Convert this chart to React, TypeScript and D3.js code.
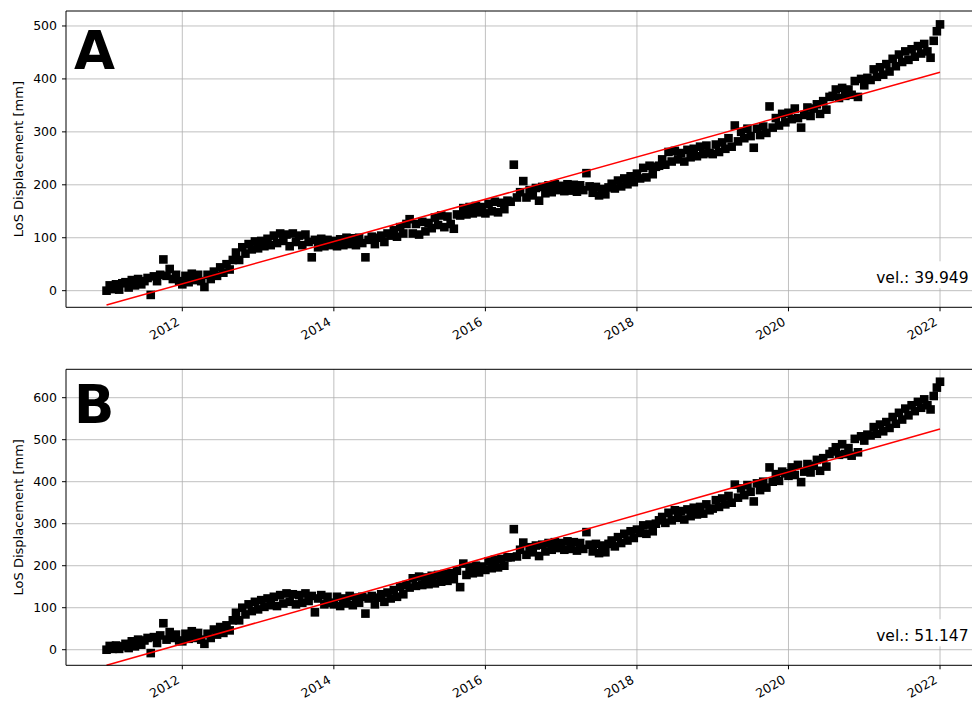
import React from "react";
import * as d3 from "d3";

// decimal-year sampling of the time series (twice a month)
const startYear = 2011;
const stepsPerYear = 24;
const xTicks = [2012, 2014, 2016, 2018, 2020, 2022];

// LoS displacement [mm], panel A, one row per year
const losA = [
  0, 10, 3, 12, 2, 14, 16, 6, 20, 10, 22, 12, 18, 24, -8, 27, 18, 30, 59, 28, 41, 22, 30, 18,
  12, 28, 16, 32, 20, 30, 18, 7, 30, 22, 36, 28, 44, 34, 50, 40, 58, 72, 58, 82, 70, 88, 78, 93,
  80, 94, 84, 98, 86, 104, 90, 108, 94, 106, 84, 108, 92, 104, 86, 106, 92, 63, 96, 82, 98, 84, 96, 86,
  94, 84, 97, 86, 100, 88, 99, 86, 100, 90, 63, 96, 102, 88, 100, 104, 92, 108, 104, 114, 102, 120, 108, 126,
  135, 108, 126, 106, 130, 112, 128, 118, 138, 124, 142, 120, 140, 126, 117, 144, 142, 156, 144, 158, 146, 160, 148, 158,
  146, 164, 150, 168, 148, 166, 154, 170, 168, 238, 176, 186, 207, 176, 190, 180, 194, 170, 196, 184, 199, 186, 201, 190,
  198, 188, 201, 189, 200, 187, 199, 190, 222, 197, 185, 196, 180, 192, 182, 195, 202, 193, 208, 197, 212, 201, 216, 205,
  221, 212, 232, 214, 236, 220, 234, 236, 248, 238, 262, 244, 264, 248, 260, 244, 266, 252, 268, 254, 272, 258, 274, 260,
  258, 276, 262, 280, 268, 288, 272, 312, 282, 300, 288, 306, 292, 270, 306, 294, 310, 298, 348, 308, 326, 312, 334, 318,
  336, 324, 344, 326, 308, 332, 346, 330, 344, 352, 334, 358, 342, 366, 368, 380, 364, 383, 368, 380, 370, 396, 366, 400,
  388, 402, 398, 418, 404, 422, 408, 428, 414, 438, 424, 446, 432, 452, 436, 456, 442, 462, 448, 466, 452, 440, 472, 490, 503,
];

// LoS displacement [mm], panel B
const losB = [
  0, 9, 2, 10, 2, 8, 14, 4, 20, 8, 24, 12, 22, 28, -8, 30, 16, 34, 63, 24, 42, 28, 36, 22,
  20, 38, 26, 44, 28, 40, 24, 14, 38, 28, 48, 36, 54, 40, 58, 46, 70, 88, 70, 100, 84, 108, 92, 114,
  96, 118, 102, 122, 106, 126, 104, 130, 110, 134, 114, 132, 108, 130, 112, 134, 116, 128, 89, 122, 130, 108, 126, 112,
  108, 126, 104, 122, 110, 128, 106, 124, 112, 126, 86, 122, 128, 108, 124, 132, 114, 136, 122, 142, 126, 150, 132, 154,
  148, 170, 152, 174, 154, 172, 156, 176, 158, 178, 162, 180, 164, 182, 168, 188, 149, 205, 178, 196, 182, 200, 184, 198,
  190, 210, 194, 214, 196, 216, 200, 220, 220, 287, 222, 238, 255, 226, 244, 232, 248, 223, 250, 234, 254, 238, 256, 242,
  254, 238, 258, 240, 256, 236, 254, 240, 280, 250, 234, 252, 230, 248, 232, 252, 260, 246, 268, 254, 276, 260, 282, 266,
  286, 278, 296, 276, 298, 282, 300, 308, 316, 302, 326, 308, 332, 314, 330, 310, 334, 318, 338, 322, 340, 324, 346, 332,
  336, 356, 340, 360, 346, 366, 350, 393, 362, 384, 368, 392, 376, 353, 396, 380, 400, 386, 434, 400, 418, 402, 424, 420,
  414, 434, 416, 440, 399, 424, 442, 422, 438, 452, 426, 456, 436, 466, 472, 482, 464, 489, 466, 480, 462, 502, 470, 508,
  498, 512, 510, 530, 514, 536, 520, 542, 528, 554, 538, 564, 548, 574, 558, 582, 568, 590, 576, 596, 582, 572, 604, 624, 638,
];

const panelLetters = ["A", "B"];
const velocities = [39.949, 51.147];
const fitOffsets = [-27, -37]; // fitted value at first acquisition
const yTicksA = [0, 100, 200, 300, 400, 500];
const yTicksB = [0, 100, 200, 300, 400, 500, 600];

const W = 972;
const H = 704;
const FONT = "DejaVu Sans, sans-serif";
const GRID = "#b0b0b0";

const x = d3.scaleLinear().domain([2010.465, 2022.55]).range([66, 981.7]);

interface PanelProps {
  top: number;
  bottom: number;
  yDomain: [number, number];
  values: number[];
  yTicks: number[];
  velocity: number;
  offset: number;
  letter: string;
  letterDy: number;
}

const Panel: React.FC<PanelProps> = ({
  top,
  bottom,
  yDomain,
  values,
  yTicks,
  velocity,
  offset,
  letter,
  letterDy,
}) => {
  const y = d3.scaleLinear().domain(yDomain).range([bottom, top]);
  const [left, right] = x.range();
  const times = values.map((_, i) => startYear + i / stepsPerYear);
  const t0 = times[0];
  const t1 = times[times.length - 1];
  const fit = d3
    .line<number>()
    .x((t) => x(t))
    .y((t) => y(offset + velocity * (t - t0)));

  const ms = 8.6;
  const label = `vel.: ${velocity.toFixed(3)}`;
  const velFs = 15.5;
  const textEnd = 968.5;
  const textBase = bottom - 24;
  const boxW = label.length * 7.7 + 8;

  return (
    <g>
      {/* grid */}
      {yTicks.map((v) => (
        <line key={"gy" + v} x1={left} x2={right} y1={y(v)} y2={y(v)} stroke={GRID} strokeWidth={0.8} />
      ))}
      {xTicks.map((t) => (
        <line key={"gx" + t} x1={x(t)} x2={x(t)} y1={top} y2={bottom} stroke={GRID} strokeWidth={0.8} />
      ))}

      {/* observations */}
      {values.map((v, i) => (
        <rect key={i} x={x(times[i]) - ms / 2} y={y(v) - ms / 2} width={ms} height={ms} fill="#000" />
      ))}

      {/* linear fit */}
      <path d={fit([t0, t1]) ?? ""} fill="none" stroke="#ff0000" strokeWidth={1.5} />

      {/* velocity annotation */}
      <rect x={textEnd - boxW + 4} y={textBase - 22} width={boxW} height={27} fill="#fff" />
      <text x={textEnd} y={textBase} textAnchor="end" fontFamily={FONT} fontSize={velFs} fill="#000">
        {label}
      </text>

      {/* spines */}
      <line x1={left} x2={right} y1={top} y2={top} stroke="#000" strokeWidth={1} />
      <line x1={left} x2={right} y1={bottom} y2={bottom} stroke="#000" strokeWidth={1} />
      <line x1={left} x2={left} y1={top} y2={bottom} stroke="#000" strokeWidth={1} />

      {/* y ticks */}
      {yTicks.map((v) => (
        <g key={"ty" + v}>
          <line x1={left - 4} x2={left} y1={y(v)} y2={y(v)} stroke="#000" />
          <text x={left - 9} y={y(v)} dy="0.36em" textAnchor="end" fontFamily={FONT} fontSize={12.5} fill="#000">
            {v}
          </text>
        </g>
      ))}

      {/* x ticks */}
      {xTicks.map((t) => (
        <g key={"tx" + t}>
          <line x1={x(t)} x2={x(t)} y1={bottom} y2={bottom + 4} stroke="#000" />
          <text
            transform={`translate(${x(t) - 2},${bottom + 17}) rotate(-30)`}
            textAnchor="end"
            fontFamily={FONT}
            fontSize={12.5}
            fill="#000"
          >
            {t}
          </text>
        </g>
      ))}

      <text
        transform={`translate(22.5,${(top + bottom) / 2}) rotate(-90)`}
        textAnchor="middle"
        fontFamily={FONT}
        fontSize={13}
        fill="#000"
      >
        LoS Displacement [mm]
      </text>

      <text x={74} y={top + letterDy} fontFamily={FONT} fontSize={53} fontWeight="bold" fill="#000">
        {letter}
      </text>
    </g>
  );
};

export default function App() {
  return (
    <svg
      width={W}
      height={H}
      viewBox={`0 0 ${W} ${H}`}
      style={{ position: "absolute", left: 0, top: 0, background: "#fff" }}
    >
      <rect width={W} height={H} fill="#fff" />
      <Panel
        top={11}
        bottom={307.3}
        yDomain={[-31.4, 528.3]}
        values={losA}
        yTicks={yTicksA}
        velocity={velocities[0]}
        offset={fitOffsets[0]}
        letter={panelLetters[0]}
        letterDy={58.3}
      />
      <Panel
        top={369.3}
        bottom={665.3}
        yDomain={[-37.1, 667.6]}
        values={losB}
        yTicks={yTicksB}
        velocity={velocities[1]}
        offset={fitOffsets[1]}
        letter={panelLetters[1]}
        letterDy={54}
      />
    </svg>
  );
}
